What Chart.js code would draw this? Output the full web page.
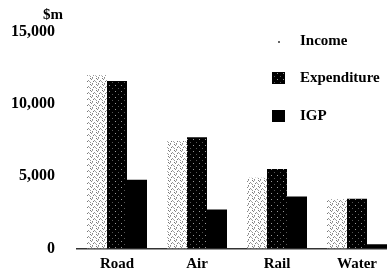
<!DOCTYPE html>
<html>
<head>
<meta charset="utf-8">
<script src="https://cdn.jsdelivr.net/npm/chart.js@4/dist/chart.umd.min.js"></script>
<style>
  html, body { margin: 0; padding: 0; background: #fff; overflow: hidden; }
  canvas { display: block; }
</style>
</head>
<body>
<canvas id="chart" width="397" height="280"></canvas>
<script>
// Values ($m)
const categories = ['Road', 'Air', 'Rail', 'Water'];
const seriesNames = ['Income', 'Expenditure', 'IGP'];
const income = [12000, 7450, 4900, 3400];
const expenditure = [11600, 7700, 5500, 3450];
const igp = [4750, 2700, 3600, 280];
const yTicks = [0, 5000, 10000, 15000];
const unitLabel = '$m';

const serif = '"Liberation Serif", "Times New Roman", serif';

// small tiles to fake the halftone fills of the scan
function makePattern(bg, dots) {
    const tile = document.createElement('canvas');
    tile.width = 6;
    tile.height = 6;
    const t = tile.getContext('2d');
    t.fillStyle = bg;
    t.fillRect(0, 0, 6, 6);
    dots.forEach(d => {
        t.fillStyle = d[2];
        t.fillRect(d[0], d[1], 1, 1);
    });
    return t.createPattern(tile, 'repeat');
}

const incomeFill = makePattern('#ffffff', [
    [0, 0, '#777'], [2, 0, '#aaa'], [1, 1, '#888'], [4, 2, '#999'],
    [3, 3, '#777'], [5, 3, '#aaa'], [0, 4, '#999'], [2, 5, '#888']
]);
const expenditureFill = makePattern('#000000', [
    [1, 1, '#999'], [4, 4, '#555']
]);
const igpFill = '#000000';
const fills = [incomeFill, expenditureFill, igpFill];

// legend + unit label drawn inside the plot, as in the original
const sideLegend = {
    id: 'sideLegend',
    afterDraw(chart) {
        const ctx = chart.ctx;
        ctx.save();
        ctx.font = 'bold 15px ' + serif;
        ctx.fillStyle = '#000';
        ctx.textBaseline = 'middle';
        ctx.textAlign = 'left';
        ctx.fillText(unitLabel, 43, 15);

        const rows = [41, 78, 116];
        chart.data.datasets.forEach((ds, i) => {
            const y = rows[i];
            if (i === 0) {
                ctx.fillStyle = '#666';
                ctx.fillRect(278, y, 2, 2);
            } else {
                ctx.fillStyle = ds.backgroundColor;
                ctx.fillRect(272, y - 6, 13, 12);
            }
            ctx.fillStyle = '#000';
            ctx.fillText(ds.label, 300, y);
        });
        ctx.restore();
    }
};

new Chart(document.getElementById('chart'), {
    type: 'bar',
    data: {
        labels: categories,
        datasets: [income, expenditure, igp].map((values, i) => ({
            label: seriesNames[i],
            data: values,
            backgroundColor: fills[i],
            borderWidth: 0,
            barPercentage: 1.0,
            categoryPercentage: 0.75
        }))
    },
    options: {
        responsive: false,
        animation: false,
        layout: { padding: { top: 32, left: 0, right: 0, bottom: 0 } },
        plugins: {
            legend: { display: false },
            tooltip: { enabled: false }
        },
        scales: {
            x: {
                grid: { display: false, drawTicks: false },
                border: { display: true, color: '#333', width: 1.5 },
                ticks: {
                    color: '#000',
                    padding: 7,
                    font: { family: serif, size: 15, weight: 'bold' }
                },
                afterFit: scale => { scale.height = 27; }
            },
            y: {
                min: yTicks[0],
                max: yTicks[yTicks.length - 1],
                afterBuildTicks: scale => { scale.ticks = yTicks.map(v => ({ value: v })); },
                grid: { display: false, drawTicks: false },
                border: { display: false },
                ticks: {
                    color: '#000',
                    padding: 22,
                    font: { family: serif, size: 16, weight: 'bold' },
                    callback: v => v.toLocaleString('en-US')
                },
                afterFit: scale => { scale.width = 77; }
            }
        }
    },
    plugins: [sideLegend]
});
</script>
</body>
</html>
